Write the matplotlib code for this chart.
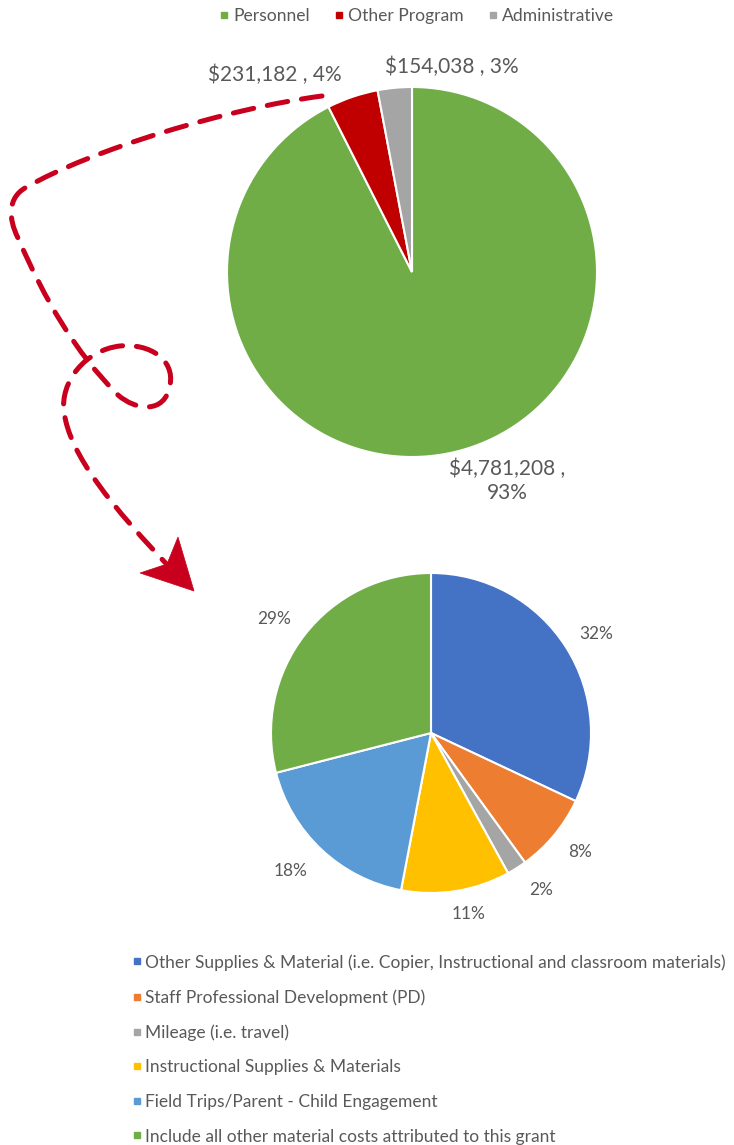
import matplotlib.pyplot as plt
from matplotlib.path import Path
from matplotlib.patches import PathPatch, Polygon
from matplotlib.lines import Line2D

plt.rcParams['font.family'] = ['Lato', 'DejaVu Sans']
plt.rcParams['lines.scale_dashes'] = False

# overall budget
top_labels = ['Personnel', 'Other Program', 'Administrative']
top_values = [4781208, 231182, 154038]
top_pcts = [93, 4, 3]
top_colors = ['#70AD47', '#C00000', '#A5A5A5']

# breakdown of "Other Program"
sub_labels = ['Other Supplies & Material (i.e. Copier, Instructional and classroom materials)',
              'Staff Professional Development (PD)',
              'Mileage (i.e. travel)',
              'Instructional Supplies & Materials',
              'Field Trips/Parent - Child Engagement',
              'Include all other material costs attributed to this grant']
sub_pcts = [32, 8, 2, 11, 18, 29]
sub_colors = ['#4472C4', '#ED7D31', '#A5A5A5', '#FFC000', '#5B9BD5', '#70AD47']

W, H = 734, 1145
TXT = '#595959'
fig = plt.figure(figsize=(W / 100, H / 100), dpi=100)


def pie_axes(cx, cy, r):
    # axes in pixel terms, square around the pie centre
    return fig.add_axes([(cx - r) / W, 1 - (cy + r) / H, 2 * r / W, 2 * r / H])


# --- top pie ---
ax1 = pie_axes(412, 272, 185)
w1, _ = ax1.pie(top_values, colors=top_colors, startangle=90, counterclock=False,
                wedgeprops=dict(edgecolor='white', linewidth=1.5))
ax1.set_xlim(-1, 1)
ax1.set_ylim(-1, 1)
top_pos = [(0.514, -1.13), (-0.742, 1.068), (0.216, 1.11)]
for v, p, (x, y) in zip(top_values, top_pcts, top_pos):
    txt = f'${v:,} , {p}%' if v < 1e6 else f'${v:,} ,\n{p}%'
    ax1.text(x, y, txt, ha='center', va='center', fontsize=15, color=TXT,
             linespacing=1.25)

handles = [Line2D([], [], marker='s', ls='', color=c, markersize=5) for c in top_colors]
fig.legend(handles, top_labels, loc='center', bbox_to_anchor=(416 / W, 1 - 16 / H),
           ncol=3, frameon=False, fontsize=12.6, labelcolor=TXT, handlelength=0.7,
           handletextpad=0.2, columnspacing=1.3, borderaxespad=0, borderpad=0)

# --- bottom pie ---
ax2 = pie_axes(431, 733, 160)
w2, _ = ax2.pie(sub_pcts, colors=sub_colors, startangle=90, counterclock=False,
                wedgeprops=dict(edgecolor='white', linewidth=1.5))
ax2.set_xlim(-1, 1)
ax2.set_ylim(-1, 1)
sub_pos = [(1.031, 0.619), (0.931, -0.744), (0.688, -0.981),
           (0.2375, -1.131), (-0.875, -0.862), (-0.981, 0.712)]
for p, (x, y) in zip(sub_pcts, sub_pos):
    ax2.text(x, y, f'{p}%', ha='center', va='center', fontsize=12.4, color=TXT)

handles2 = [Line2D([], [], marker='s', ls='', color=c, markersize=4.5) for c in sub_colors]
fig.legend(handles2, sub_labels, loc='upper left', bbox_to_anchor=(133 / W, 1 - 954 / H),
           frameon=False, fontsize=12.5, labelcolor=TXT, handlelength=0.5,
           handletextpad=0.2, labelspacing=1.07, borderaxespad=0, borderpad=0)

# --- dashed red connector with loop ---
ov = fig.add_axes([0, 0, 1, 1])
ov.set_xlim(0, W)
ov.set_ylim(H, 0)
ov.axis('off')
red = '#C8001E'
verts = [(322, 96),
         (230, 108), (90, 150), (25, 188),
         (8, 198), (8, 218), (18, 238),
         (45, 300), (75, 352), (118, 395),
         (135, 410), (165, 415), (170, 385),
         (175, 360), (150, 343), (120, 346),
         (85, 350), (60, 382), (64, 412),
         (70, 455), (110, 505), (176, 574)]
codes = [Path.MOVETO] + [Path.CURVE4] * 21
ov.add_patch(PathPatch(Path(verts, codes), fill=False, edgecolor=red, linewidth=3.6,
                       linestyle=(0, (15, 10)), capstyle='round'))
ov.add_patch(Polygon([(194, 591), (140, 573), (167, 564), (178, 537)],
                     closed=True, facecolor=red, edgecolor=red, linewidth=0.5))

fig.savefig('out.png', dpi=100)
